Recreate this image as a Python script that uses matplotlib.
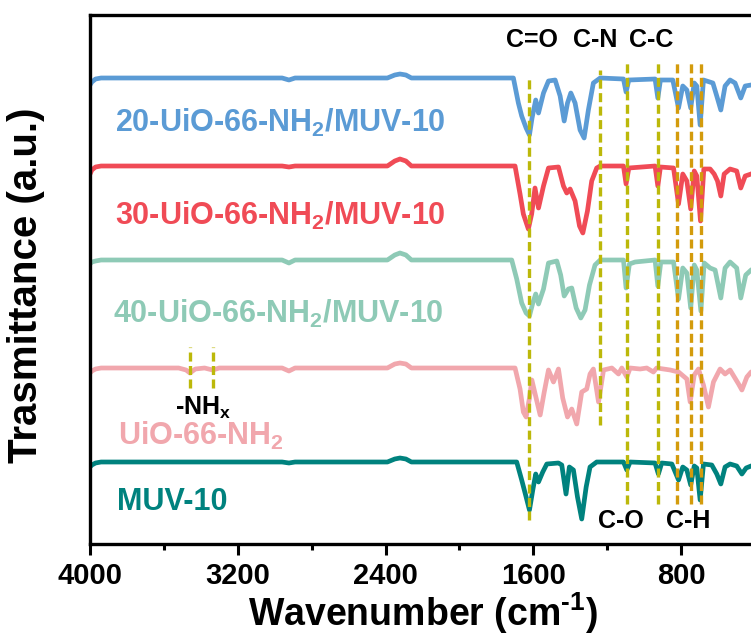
import matplotlib
matplotlib.use("Agg")
import matplotlib.pyplot as plt
from matplotlib.ticker import MultipleLocator

plt.rcParams['font.family'] = ['Liberation Sans', 'DejaVu Sans']
plt.rcParams['font.weight'] = 'bold'
plt.rcParams['mathtext.fontset'] = 'custom'
plt.rcParams['mathtext.rm'] = 'Liberation Sans:bold'
plt.rcParams['mathtext.bf'] = 'Liberation Sans:bold'
plt.rcParams['mathtext.it'] = 'Liberation Sans:bold'
plt.rcParams['mathtext.default'] = 'bf'
plt.rcParams['lines.scale_dashes'] = False

# ---- data: (wavenumber cm-1, transmittance relative to baseline, a.u.) ----
spec_20 = [(4000,-7),(3990,-4),(3970,-1),(3940,0),(3500,0),(2960,0),(2923,-2),(2890,0),(2390,0),(2350,3),(2322,4),(2290,3),(2260,0),
           (1834,0),(1708,0),(1681,-25),(1663,-38),(1639,-50),(1621,-57),(1607,-40),(1587,-22),(1572,-35),(1545,-15),(1518,-3),
           (1482,-2),(1455,-18),(1433,-43),(1415,-25),(1397,-15),(1374,-25),(1347,-52),(1325,-60),(1302,-32),(1275,-5),(1238,0),
           (1112,-1),(1098,-14),(1083,-2),(941,-1),(926,-20),(912,-2),(845,-2),(814,-30),(791,-8),(769,-12),(748,-30),(729,-5),
           (715,-8),(697,-47),(679,-2),(628,-5),(607,-18),(585,-32),(562,-8),(535,-2),(508,-5),(477,-20),(453,-8),(421,-7),(400,-6)]
spec_30 = [(4000,-8),(3990,-4),(3970,-1),(3940,0),(3500,0),(2960,0),(2923,-1),(2890,0),(2390,0),(2350,5),(2322,7),(2290,5),(2260,0),
           (1834,0),(1699,0),(1672,-28),(1654,-48),(1627,-63),(1609,-48),(1591,-22),(1572,-42),(1545,-20),(1518,-2),(1464,-1),
           (1437,-20),(1419,-27),(1401,-23),(1374,-35),(1350,-60),(1332,-67),(1307,-45),(1284,-15),(1257,-2),(1238,0),(1112,0),
           (1098,-18),(1083,-2),(941,0),(926,-20),(912,-1),(841,-2),(814,-38),(791,-8),(769,-15),(748,-43),(729,-5),(715,-10),
           (695,-55),(677,-3),(643,-3),(621,-8),(603,-15),(585,-30),(567,-8),(535,-3),(499,-5),(477,-22),(453,-10),(421,-8),(400,-6)]
spec_40 = [(4000,-4),(3990,-2),(3970,-1),(3940,0),(3500,0),(2960,0),(2923,-3),(2890,0),(2390,0),(2350,5),(2322,7),(2290,5),(2260,0),
           (1834,0),(1717,0),(1690,-19),(1663,-43),(1639,-53),(1621,-56),(1603,-43),(1587,-34),(1572,-44),(1545,-29),(1518,-3),
           (1473,-1),(1452,-15),(1433,-36),(1410,-29),(1392,-28),(1368,-48),(1343,-58),(1320,-50),(1296,-25),(1266,-5),(1238,0),
           (1112,0),(1098,-28),(1080,-4),(1049,-2),(941,0),(926,-26),(910,-2),(841,-2),(814,-39),(791,-8),(769,-13),(748,-48),
           (729,-5),(715,-10),(693,-51),(675,-3),(643,-8),(616,-10),(585,-38),(562,-8),(535,-2),(499,-8),(477,-38),(450,-15),
           (421,-10),(400,-8)]
spec_uio = [(4000,-5),(3990,-3),(3970,-1),(3940,0),(3520,0),(3480,-2),(3459,-5),(3430,-1),(3380,0),(3336,-2),(3300,0),(2960,0),
            (2923,-3),(2890,0),(2390,0),(2350,4),(2322,5),(2290,4),(2260,0),(1834,0),(1699,0),(1672,-21),(1654,-44),(1639,-49),
            (1621,-30),(1608,-12),(1585,-30),(1563,-47),(1542,-25),(1518,-2),(1491,-14),(1464,-1),(1441,-30),(1415,-49),(1392,-41),
            (1365,-56),(1338,-24),(1311,-21),(1293,-6),(1275,-1),(1247,-34),(1220,-2),(1175,0),(1139,-6),(1121,0),(1094,-9),
            (1076,0),(1022,-1),(986,0),(950,-4),(932,0),(859,-2),(814,-4),(769,-11),(751,-34),(729,-7),(706,-1),(679,-17),
            (652,-39),(625,-14),(589,-1),(562,-6),(535,-2),(489,-16),(471,-22),(444,-9),(421,-4),(400,-3)]
spec_muv = [(4000,-5),(3990,-3),(3970,-1),(3940,0),(3500,0),(2960,0),(2923,-1),(2890,0),(2390,0),(2350,3),(2322,4),(2290,3),(2260,0),
            (1834,0),(1690,0),(1663,-18),(1639,-35),(1621,-48),(1603,-28),(1587,-12),(1572,-20),(1549,-10),(1527,-2),(1464,-1),
            (1446,-3),(1423,-32),(1405,-5),(1383,-8),(1361,-35),(1338,-57),(1314,-25),(1293,-5),(1257,0),(1112,0),(1094,-8),
            (1076,0),(941,-1),(923,-12),(905,-1),(850,-2),(814,-18),(791,-5),(769,-8),(748,-23),(729,-4),(715,-6),(697,-38),
            (679,-2),(634,-3),(607,-12),(585,-22),(562,-5),(535,-2),(499,-4),(471,-12),(448,-6),(421,-4),(400,-3)]

names = ["20-UiO-66-NH$_2$/MUV-10", "30-UiO-66-NH$_2$/MUV-10", "40-UiO-66-NH$_2$/MUV-10", "UiO-66-NH$_2$", "MUV-10"]
spectra = [spec_20, spec_30, spec_40, spec_uio, spec_muv]
offsets = [466, 378, 284, 176, 82]
colors = ['#5b9bd5', '#f04b56', '#8ecab6', '#f1a7ad', '#00827e']
label_pos = [(3865, 412), (3865, 319), (3875, 221), (3848, 99), (3854, 34)]

# band markers: (wavenumber, y_bottom, y_top, color)
bands = [(1623, 24, 467, '#bcb80a'), (1239, 119, 474, '#bcb80a'), (1094, 40, 484, '#bcb80a'),
         (926, 40, 484, '#bcb80a'), (820, 40, 484, '#d39b0c'), (748, 40, 484, '#d39b0c'),
         (693, 40, 484, '#d39b0c'), (3459, 156, 197, '#bcb80a'), (3336, 156, 197, '#bcb80a')]
band_labels = [("C=O", 1605, 497), ("C-N", 1265, 497), ("C-C", 962, 497), ("C-O", 1125, 16), ("C-H", 760, 16)]
nh_label = ("-NH$_x$", 3540, 129)

W, H = 751, 637
fig = plt.figure(figsize=(W/100, H/100), dpi=100)
ax = fig.add_axes([90/W, (H-544)/H, (755-90)/W, 529/H])

for spec, off, col, name, (lx, ly) in zip(spectra, offsets, colors, names, label_pos):
    xs = [p[0] for p in spec]
    ys = [off + p[1] for p in spec]
    ax.plot(xs, ys, color=col, lw=3.4, solid_joinstyle='round', solid_capstyle='round', zorder=2)
    ax.text(lx, ly, name, color=col, fontsize=22, fontweight='bold', ha='left', va='baseline')

for wn, y0, y1, col in bands:
    ax.plot([wn, wn], [y0, y1], color=col, lw=2.4, dashes=(6.5, 3.2), zorder=3)

for txt, x, y in band_labels:
    ax.text(x, y, txt, fontsize=18, fontweight='bold', ha='center', va='baseline', color='black')
ax.text(nh_label[1], nh_label[2], nh_label[0], fontsize=18, fontweight='bold', ha='left', va='baseline', color='black')

ax.set_xlim(4000, 400)
ax.set_ylim(0, 529)
ax.xaxis.set_major_locator(MultipleLocator(800))
ax.xaxis.set_minor_locator(MultipleLocator(400))
ax.set_yticks([])
ax.tick_params(axis='x', which='major', direction='out', length=8, width=2.2, labelsize=21, pad=5)
ax.tick_params(axis='x', which='minor', direction='out', length=4.5, width=2.2)
for lab in ax.get_xticklabels():
    lab.set_fontweight('bold')
for s in ax.spines.values():
    s.set_linewidth(2.4)

ax.set_xlabel("Wavenumber (cm$^{\\text{-}1}$)", fontsize=27, fontweight='bold', labelpad=0)
ax.set_ylabel("Trasmittance (a.u.)", fontsize=29, fontweight='bold')
ax.yaxis.set_label_coords(-0.068, 0.49)

fig.savefig("out.png", dpi=100)
